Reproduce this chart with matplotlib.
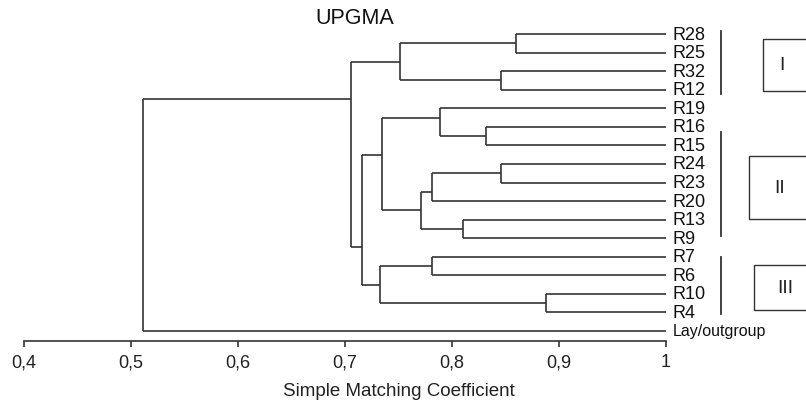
import matplotlib
matplotlib.use("Agg")
import matplotlib.pyplot as plt
from matplotlib.patches import Rectangle
from matplotlib.lines import Line2D

# === Data ===
leaves = ['R28', 'R25', 'R32', 'R12', 'R19', 'R16', 'R15', 'R24', 'R23',
          'R20', 'R13', 'R9', 'R7', 'R6', 'R10', 'R4', 'Lay/outgroup']
# merges: (left child, right child, similarity); ids < 17 are leaves
merge_left = [0, 2, 17, 5, 4, 7, 22, 10, 23, 21, 12, 14, 27, 26, 19, 31]
merge_right = [1, 3, 18, 6, 20, 8, 9, 11, 24, 25, 13, 15, 28, 29, 30, 16]
merge_height = [0.860, 0.8455, 0.7514, 0.8315, 0.7888, 0.8455, 0.7816, 0.8106,
                0.771, 0.7349, 0.7816, 0.8875, 0.7327, 0.7156, 0.7056, 0.511]
x_ticks = [0.4, 0.5, 0.6, 0.7, 0.8, 0.9, 1.0]
x_tick_labels = ['0,4', '0,5', '0,6', '0,7', '0,8', '0,9', '1']
group_names = ['I', 'II', 'III']

W, H = 806, 406
LINE_C = '#333333'
plt.rcParams['font.family'] = ['Liberation Sans', 'DejaVu Sans']

fig = plt.figure(figsize=(W / 100, H / 100), dpi=100)
ax = fig.add_axes([24 / W, (H - 342) / H, 642 / W, (342 - 25) / H])
ax.set_xlim(0.4, 1.0)
ax.set_ylim(16.539, -0.539)

n = len(leaves)
# for every node: height, attach y, last leaf index, leaf count
height = {i: 1.0 for i in range(n)}
attach = {i: float(i) for i in range(n)}
last_leaf = {i: i for i in range(n)}
for k, (a, b, h) in enumerate(zip(merge_left, merge_right, merge_height)):
    node = n + k
    ax.plot([h, h], [attach[a], attach[b]], color=LINE_C, lw=1.2, solid_capstyle='butt')
    ax.plot([h, height[a]], [attach[a], attach[a]], color=LINE_C, lw=1.2, solid_capstyle='butt')
    ax.plot([h, height[b]], [attach[b], attach[b]], color=LINE_C, lw=1.2, solid_capstyle='butt')
    height[node] = h
    last_leaf[node] = last_leaf[b]
    attach[node] = last_leaf[a] + 0.5

for i, name in enumerate(leaves):
    fs = 11.5 if name.startswith('Lay') else 13
    ax.annotate(name, (1.0, i), xytext=(5, 0), textcoords='offset points',
                va='center', ha='left', fontsize=fs, color='#111111',
                annotation_clip=False)

for s in ['top', 'right', 'left']:
    ax.spines[s].set_visible(False)
ax.spines['bottom'].set_color(LINE_C)
ax.spines['bottom'].set_linewidth(1.2)
ax.set_yticks([])
ax.set_xticks(x_ticks)
ax.set_xticklabels(x_tick_labels, fontsize=13, color='#222222')
ax.tick_params(axis='x', direction='out', length=4, width=1.2, color=LINE_C, pad=5)
ax.patch.set_alpha(0)

# group brackets and boxes (figure pixel coords)
def fx(x):
    return x / W

def fy(y):
    return 1 - y / H

bars = [(31.7, 95), (133, 236.5), (258, 315)]
boxes = [(762.7, 40, 91.7), (749, 156.7, 220), (754, 266, 310.7)]
text_x = [781.5, 780, 785]
for name, (y0, y1), (bx, by0, by1), tx in zip(group_names, bars, boxes, text_x):
    fig.add_artist(Line2D([fx(720.7), fx(720.7)], [fy(y0), fy(y1)],
                          color=LINE_C, lw=1.3))
    fig.add_artist(Rectangle((fx(bx), fy(by1)), fx(840 - bx), (by1 - by0) / H,
                             fill=False, edgecolor=LINE_C, lw=1.0,
                             transform=fig.transFigure, clip_on=False))
    fig.text(fx(tx), fy((by0 + by1) / 2), name, ha='center', va='center',
             fontsize=14, color='#222222')

fig.text(fx(355), fy(18), 'UPGMA', ha='center', va='center', fontsize=15.5, color='#111111')
fig.text(fx(399), fy(392), 'Simple Matching Coefficient', ha='center', va='center',
         fontsize=13.5, color='#222222')

fig.savefig('out.png', dpi=100)
